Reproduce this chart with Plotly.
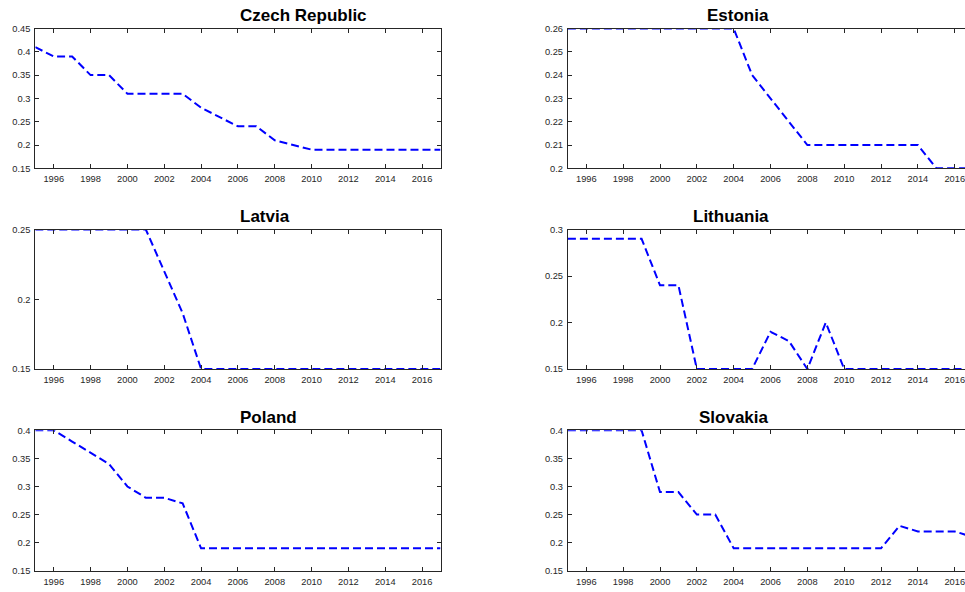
import plotly.graph_objects as go

years = list(range(1995, 2018))

czech = [0.41, 0.39, 0.39, 0.35, 0.35, 0.31, 0.31, 0.31, 0.31, 0.28, 0.26, 0.24,
         0.24, 0.21, 0.20, 0.19, 0.19, 0.19, 0.19, 0.19, 0.19, 0.19, 0.19]
estonia = [0.26, 0.26, 0.26, 0.26, 0.26, 0.26, 0.26, 0.26, 0.26, 0.26, 0.24, 0.23,
           0.22, 0.21, 0.21, 0.21, 0.21, 0.21, 0.21, 0.21, 0.20, 0.20, 0.20]
latvia = [0.25, 0.25, 0.25, 0.25, 0.25, 0.25, 0.25, 0.22, 0.19, 0.15, 0.15, 0.15,
          0.15, 0.15, 0.15, 0.15, 0.15, 0.15, 0.15, 0.15, 0.15, 0.15, 0.15]
lithuania = [0.29, 0.29, 0.29, 0.29, 0.29, 0.24, 0.24, 0.15, 0.15, 0.15, 0.15, 0.19,
             0.18, 0.15, 0.20, 0.15, 0.15, 0.15, 0.15, 0.15, 0.15, 0.15, 0.15]
poland = [0.40, 0.40, 0.38, 0.36, 0.34, 0.30, 0.28, 0.28, 0.27, 0.19, 0.19, 0.19,
          0.19, 0.19, 0.19, 0.19, 0.19, 0.19, 0.19, 0.19, 0.19, 0.19, 0.19]
slovakia = [0.40, 0.40, 0.40, 0.40, 0.40, 0.29, 0.29, 0.25, 0.25, 0.19, 0.19, 0.19,
            0.19, 0.19, 0.19, 0.19, 0.19, 0.19, 0.23, 0.22, 0.22, 0.22, 0.21]

titles = ["Czech Republic", "Estonia", "Latvia", "Lithuania", "Poland", "Slovakia"]
series = [czech, estonia, latvia, lithuania, poland, slovakia]

x_ticks = list(range(1996, 2017, 2))
y_ticks = [
    [0.15, 0.2, 0.25, 0.3, 0.35, 0.4, 0.45],
    [0.2, 0.21, 0.22, 0.23, 0.24, 0.25, 0.26],
    [0.15, 0.2, 0.25],
    [0.15, 0.2, 0.25, 0.3],
    [0.15, 0.2, 0.25, 0.3, 0.35, 0.4],
    [0.15, 0.2, 0.25, 0.3, 0.35, 0.4],
]

W, H = 965, 592
PX_PER_YEAR = 18.42
LX0 = 35.3                   # left column axis box (px)
LX1 = LX0 + 22 * PX_PER_YEAR
RX0 = 567.9                  # right column left edge (px)
rows_px = [(28.5, 168.3), (229.5, 369), (430.3, 570.8)]

fig = go.Figure()
axcol = "#262626"
font_family = "Liberation Sans, Arial, Helvetica, sans-serif"
tfont = dict(size=9.3, color=axcol, family=font_family)

for i, (name, vals) in enumerate(zip(titles, series)):
    r, c = divmod(i, 2)
    n = i + 1
    xa = "x" if n == 1 else f"x{n}"
    ya = "y" if n == 1 else f"y{n}"
    fig.add_trace(go.Scatter(x=years, y=vals, mode="lines", xaxis=xa, yaxis=ya,
                             line=dict(color="#0000ff", width=2, dash="8px,4px"),
                             showlegend=False, hoverinfo="skip"))
    top, bot = rows_px[r]
    ydom = [1 - bot / H, 1 - top / H]
    if c == 0:
        xdom = [LX0 / W, LX1 / W]
        xr = [1995, 2017]
        title_x = (LX0 + LX1) / 2 / W
    else:
        xdom = [RX0 / W, 1.0]
        xr = [1995, 1995 + (W - RX0) / PX_PER_YEAR]
        title_x = (RX0 + RX0 + (LX1 - LX0)) / 2 / W
    xkey = "xaxis" if n == 1 else f"xaxis{n}"
    ykey = "yaxis" if n == 1 else f"yaxis{n}"
    fig.update_layout(**{
        xkey: dict(domain=xdom, anchor=ya, range=xr, tickvals=x_ticks,
                   ticktext=[str(t) for t in x_ticks],
                   showgrid=False, zeroline=False, showline=True, linecolor=axcol,
                   linewidth=1, mirror="ticks", ticks="inside", ticklen=4,
                   tickcolor=axcol, tickfont=tfont, ticklabeloverflow="allow",
                   ticklabelstandoff=2),
        ykey: dict(domain=ydom, anchor=xa, range=[y_ticks[i][0], y_ticks[i][-1]],
                   tickvals=y_ticks[i], ticktext=[f"{v:g}" for v in y_ticks[i]],
                   showgrid=False, zeroline=False, showline=True, linecolor=axcol,
                   linewidth=1, mirror="ticks" if c == 0 else False,
                   ticks="inside", ticklen=4, tickcolor=axcol, tickfont=tfont,
                   ticklabeloverflow="allow", ticklabelstandoff=2),
    })
    fig.add_annotation(text=f"<b>{name}</b>", xref="paper", yref="paper",
                       x=title_x, y=ydom[1], yanchor="bottom", yshift=1,
                       showarrow=False,
                       font=dict(size=17, color="black", family=font_family))

fig.update_layout(width=W, height=H, margin=dict(l=0, r=0, t=0, b=0, autoexpand=False),
                  autosize=False, paper_bgcolor="white", plot_bgcolor="white")
fig.write_html("out.html", config={"displayModeBar": False, "responsive": False},
               post_script="document.body.style.margin='0';document.body.style.overflow='hidden';")
